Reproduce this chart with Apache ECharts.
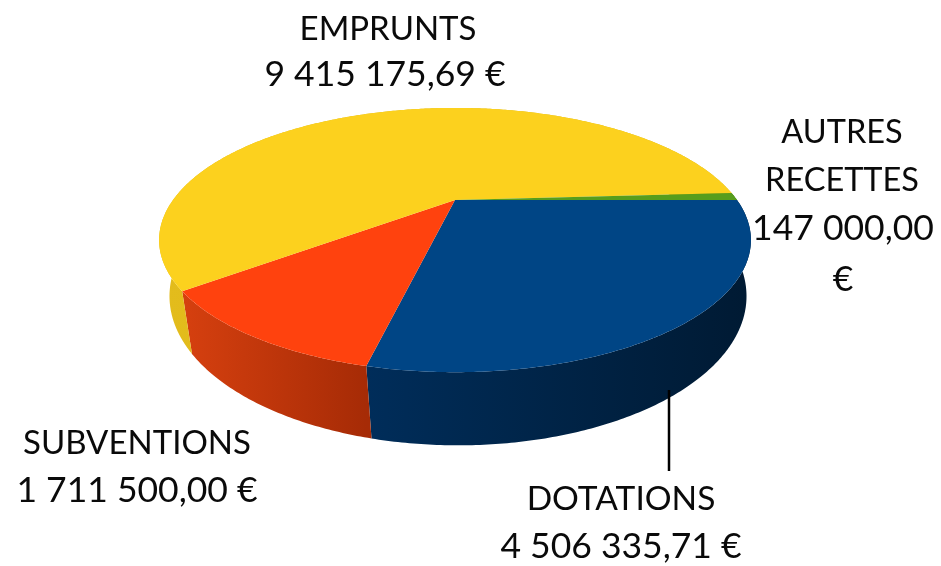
<!DOCTYPE html>
<html>
<head>
<meta charset="utf-8">
<style>
html,body{margin:0;padding:0;background:#fff;}
#main{width:941px;height:566px;}
</style>
<script src="https://cdn.jsdelivr.net/npm/echarts@6/dist/echarts.min.js"></script>
</head>
<body>
<div id="main"></div>
<script>
// drawn clockwise from the right-hand side of the pie
var categories = ['DOTATIONS', 'SUBVENTIONS', 'EMPRUNTS', 'AUTRES RECETTES'];
var values = [4506335.71, 1711500.00, 9415175.69, 147000.00];
var topColors = ['#004585', '#ff420e', '#fcd11e', '#579d1c'];
var wallLeft = ['#002d5a', '#d6400f', '#e3bc1c', '#3f7314'];
var wallRight = ['#001a33', '#a62b06', '#d8b318', '#3f7314'];

// perspective of the pie, fitted on the picture
var cx = 455, cy = 200, rx = 282, ry = 120, persp = 0.303;
var drop = 51, bottomScale = 0.975, bottomShift = 3;

var total = 0;
for(var i = 0; i < values.length; i++){
	total += values[i];
}
var sliceData = [];
var acc = 0;
for(var i = 0; i < values.length; i++){
	sliceData.push({name:categories[i], value:[acc / total, (acc + values[i]) / total, i]});
	acc += values[i];
}

function topPoint(t){
	var d = 1 - persp * Math.sin(t);
	return [cx + rx * Math.cos(t) / d, cy + ry * Math.sin(t) / d];
}
function bottomPoint(t){
	var d = 1 - persp * Math.sin(t);
	return [cx + bottomShift + bottomScale * rx * Math.cos(t) / d, cy + (ry * Math.sin(t) + drop) / d];
}
function arcAngles(from, to){
	var a0 = from * Math.PI * 2, a1 = to * Math.PI * 2;
	var n = Math.max(4, Math.ceil((a1 - a0) / 0.01));
	var list = [];
	for(var j = 0; j <= n; j++){
		list.push(a0 + (a1 - a0) * j / n);
	}
	return list;
}

function renderWall(params, api){
	var idx = api.value(2);
	var angles = arcAngles(api.value(0), api.value(1));
	var pts = [];
	var minX = 9999, maxX = -9999;
	for(var j = 0; j < angles.length; j++){
		var p = topPoint(angles[j]);
		if(Math.sin(angles[j]) > -0.3 && p[0] < minX) minX = p[0];
		if(Math.sin(angles[j]) > -0.3 && p[0] > maxX) maxX = p[0];
		pts.push(p);
	}
	for(var j = angles.length - 1; j >= 0; j--){
		pts.push(bottomPoint(angles[j]));
	}
	return {
		type:'polygon',
		shape:{points:pts},
		style:{
			fill:new echarts.graphic.LinearGradient(minX, 0, maxX, 0, [
				{offset:0, color:wallLeft[idx]},
				{offset:1, color:wallRight[idx]}
			], true)
		}
	};
}

function renderTop(params, api){
	var idx = api.value(2);
	var angles = arcAngles(api.value(0), api.value(1));
	var pts = [[cx, cy]];
	for(var j = 0; j < angles.length; j++){
		pts.push(topPoint(angles[j]));
	}
	return {
		type:'polygon',
		shape:{points:pts},
		style:{fill:topColors[idx]}
	};
}

// text of the labels, one entry per line: text, x, y, font size
var labelLines = [
	['EMPRUNTS', 388, 29, 33],
	['9 415 175,69 €', 385, 75, 35.5],
	['AUTRES', 842, 133, 32.5],
	['RECETTES', 842, 181, 32.5],
	['147 000,00', 843, 229, 35.5],
	['€', 843, 280, 35.5],
	['SUBVENTIONS', 137, 443, 33],
	['1 711 500,00 €', 137, 491, 35.5],
	['DOTATIONS', 621, 499, 33.5],
	['4 506 335,71 €', 621, 547, 35.5]
];
var graphics = [{
	type:'line',
	shape:{x1:669, y1:390, x2:669, y2:471},
	style:{stroke:'#000', lineWidth:2.5},
	z:10
}];
for(var i = 0; i < labelLines.length; i++){
	graphics.push({
		type:'text',
		x:labelLines[i][1],
		y:labelLines[i][2],
		z:10,
		style:{
			text:labelLines[i][0],
			fill:'#0a0a0a',
			font:labelLines[i][3] + 'px Lato, Carlito, sans-serif',
			align:'center',
			verticalAlign:'middle'
		}
	});
}

var myChart = echarts.init(document.getElementById('main'), null, {renderer:'canvas'});
myChart.setOption({
	animation:false,
	backgroundColor:'#fff',
	tooltip:{show:false},
	graphic:graphics,
	series:[{
		type:'custom',
		coordinateSystem:'none',
		silent:true,
		z:1,
		data:sliceData,
		renderItem:renderWall
	},{
		type:'custom',
		coordinateSystem:'none',
		silent:true,
		z:2,
		data:sliceData,
		renderItem:renderTop
	}]
});
</script>
</body>
</html>
